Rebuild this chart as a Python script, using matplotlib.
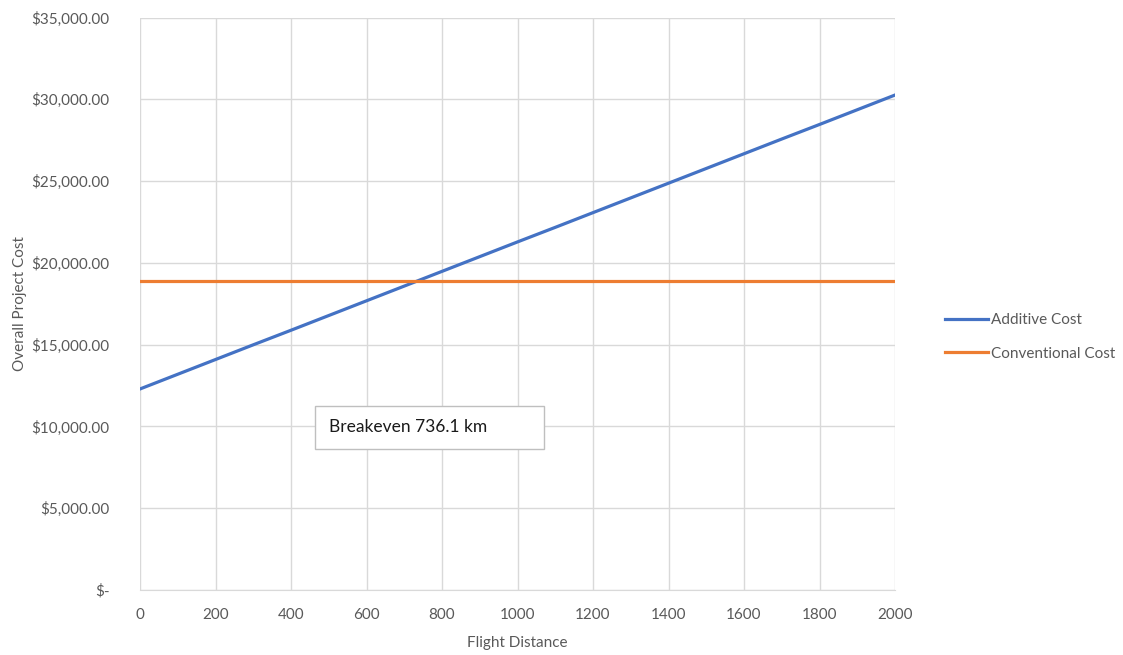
import matplotlib
matplotlib.use("Agg")
import matplotlib.pyplot as plt
from matplotlib.ticker import FuncFormatter
from matplotlib.patches import Rectangle

plt.rcParams["font.family"] = ["Lato", "DejaVu Sans"]

# flight distance (km) and cost values
distance = [0, 100, 200, 300, 400, 500, 600, 700, 800, 900, 1000,
            1100, 1200, 1300, 1400, 1500, 1600, 1700, 1800, 1900, 2000]
additive_cost = [12290, 13190, 14090, 14990, 15880, 16780, 17680, 18580, 19480, 20380, 21280,
                 22170, 23070, 23970, 24870, 25770, 26670, 27570, 28460, 29360, 30260]
conventional_cost = [18906] * len(distance)
breakeven_label = "Breakeven 736.1 km"

C_ADD = "#4472C4"; C_CONV = "#ED7D31"; C_GRID = "#D9D9D9"; C_TXT = "#595959"

fig = plt.figure(figsize=(11.23, 6.55), dpi=100)
ax = fig.add_axes([140 / 1123, 1 - 590 / 655, 755 / 1123, 572.5 / 655])

ax.plot(distance, additive_cost, color=C_ADD, lw=2.3, label="Additive Cost", zorder=3)
ax.plot(distance, conventional_cost, color=C_CONV, lw=2.3, label="Conventional Cost", zorder=3)

ax.set_xlim(0, 2000); ax.set_ylim(0, 35000)
ax.set_xticks(range(0, 2001, 200))
ax.set_yticks(range(0, 35001, 5000))
ax.yaxis.set_major_formatter(FuncFormatter(lambda v, p: "$-" if v == 0 else "${:,.2f}".format(v)))
ax.grid(True, color=C_GRID, lw=1.0, zorder=0)
ax.set_axisbelow(True)
for s in ["top", "right", "left"]:
    ax.spines[s].set_visible(False)
ax.spines["bottom"].set_color(C_GRID)
ax.tick_params(length=0, labelcolor=C_TXT, labelsize=11)
ax.tick_params(axis="y", pad=22)
ax.tick_params(axis="x", pad=13)

ax.set_xlabel("Flight Distance", color=C_TXT, fontsize=11, labelpad=10)
ax.set_ylabel("Overall Project Cost", color=C_TXT, fontsize=11, labelpad=3)

# breakeven text box
ax.add_patch(Rectangle((175 / 755, (590 - 449) / 572.5), 229 / 755, 43 / 572.5,
                       transform=ax.transAxes, facecolor="white", edgecolor="#BFBFBF",
                       lw=1.0, zorder=4))
ax.text(189 / 755, (590 - 427.5) / 572.5, breakeven_label, transform=ax.transAxes,
        ha="left", va="center", fontsize=12.5, color="#1a1a1a", zorder=5)

fig.legend(loc="center left", bbox_to_anchor=(931 / 1123, 1 - 337 / 655), frameon=False,
           fontsize=11, labelcolor=C_TXT, handlelength=2.8, handletextpad=0.2,
           labelspacing=1.25)

fig.savefig("out.png", dpi=100)
